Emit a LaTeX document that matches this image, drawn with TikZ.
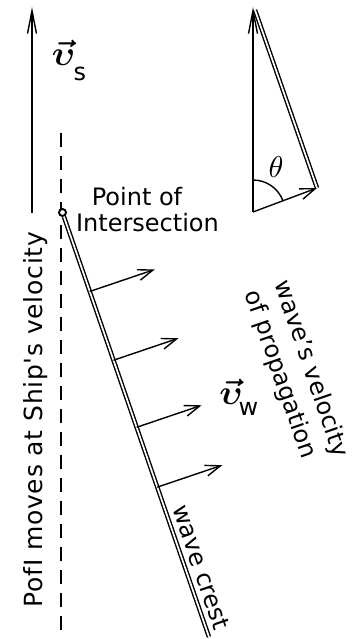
\documentclass[tikz,border=0pt]{standalone}
\usepackage{fontspec}
\setmainfont{DejaVu Sans}
\newfontfamily\spacedfont[LetterSpace=3]{DejaVu Sans}
\newcommand{\boldvel}{{\mathversion{bold}$\vec{\upsilon}$}}
\usetikzlibrary{arrows.meta,calc}
\begin{document}
\begin{tikzpicture}[x=1pt,y=1pt,line width=1.4pt,
  lbl/.style={font=\fontsize{24}{31}\selectfont,inner sep=0pt},
  mathlbl/.style={inner sep=0pt,scale=3.5},
  vecarrow/.style={-{Straight Barb[length=15pt,width=11pt,line width=1.4pt]}},
  tallarrow/.style={-{Straight Barb[length=23pt,width=9pt,line width=1.4pt]}},
  crestline/.style={double,double distance=1.7pt,line width=1.4pt},
  pathdash/.style={dash pattern=on 14pt off 9pt}]
\useasboundingbox (0,0) rectangle (357,-639);
% ship velocity arrow and label
\coordinate (sb) at (32,-213);
\coordinate (st) at (32,-7);
\draw[tallarrow] (sb) -- (st);
\node[inner sep=0pt,rotate=90,anchor=base west,font=\spacedfont\fontsize{25}{30}\selectfont] (pofi) at (42,-608) {PofI moves at Ship's velocity};
\node[mathlbl] (vs) at (63.5,-52.5) {\boldvel};
\node[lbl] (vssub) at (80,-73.5) {s};
% dashed path of point of intersection
\coordinate (dt) at (61,-133);
\coordinate (db) at (61,-639);
\draw[pathdash] (dt) -- (db);
% wave crest
\coordinate (ce) at (209,-637);
\node[circle,draw,fill=white,inner sep=0pt,minimum size=7pt,line width=1.9pt] (poi) at (62.5,-212.5) {};
\draw[crestline] (poi) -- (ce);
\node[lbl,anchor=base] (pt1) at (137,-205) {Point of};
\node[lbl,anchor=base] (pt2) at (147.5,-231) {Intersection};
\foreach \f in {0.186,0.348,0.506,0.647}
  \draw[vecarrow] ($(poi.center)!\f!(ce)$) -- ++(65,22);
\node[mathlbl] (vw) at (231,-391.5) {\boldvel};
\node[lbl] (vwsub) at (248.5,-409) {w};
\node[lbl,rotate=-71,align=left] (prop) at (296,-374) {wave's velocity\\of propagation};
\node[lbl,rotate=-71] (crestlbl) at (201,-567) {wave crest};
% velocity triangle
\coordinate (tb) at (253,-212);
\coordinate (tt) at (253,-7);
\coordinate (tr) at (317,-188);
\draw[tallarrow] (tb) -- (tt);
\draw[crestline] (tr) -- ($(tt)+(2,-3)$);
\draw[vecarrow] (tb) -- (tr);
\draw (tb) ++(0,32) arc[start angle=90,end angle=20.6,radius=32];
\node[inner sep=0pt,scale=3] (theta) at (276,-167) {$\theta$};
\end{tikzpicture}
\end{document}
